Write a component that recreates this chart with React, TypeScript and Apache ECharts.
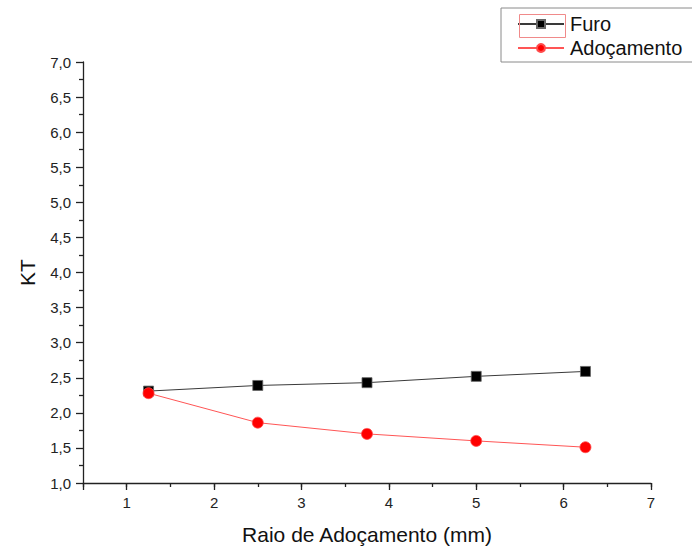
import React, { useEffect, useRef } from "react";
import * as echarts from "echarts";

// Fillet radius (mm) and stress concentration factor KT
const raio = [1.25, 2.5, 3.75, 5, 6.25];
const furo = [2.31, 2.39, 2.43, 2.52, 2.59];
const adocamento = [2.28, 1.86, 1.7, 1.6, 1.51];

const seriesNames = ["Furo", "Adoçamento"];
const xTitle = "Raio de Adoçamento (mm)";
const yTitle = "KT";

const FONT = "Liberation Sans, Arial, sans-serif";

export default function App() {
  const ref = useRef<HTMLDivElement>(null);

  useEffect(() => {
    if (!ref.current) return;
    const chart = echarts.init(ref.current, undefined, { renderer: "svg" });
    const pairs = (ys: number[]) => raio.map((x, i) => [x, ys[i]]);

    chart.setOption({
      animation: false,
      backgroundColor: "#ffffff",
      textStyle: { fontFamily: FONT },
      grid: {
        left: 83,
        right: 41,
        top: 62,
        bottom: 66,
        containLabel: false,
        outerBoundsMode: "none",
      },
      legend: {
        orient: "vertical",
        left: 501,
        top: 8,
        width: 189,
        padding: [6, 20, 4, 16],
        itemWidth: 46,
        itemHeight: 10,
        itemGap: 4,
        backgroundColor: "#ffffff",
        borderColor: "#8a8a8a",
        borderWidth: 1,
        textStyle: { fontSize: 20, color: "#111", fontFamily: FONT, padding: [0, 0, 0, 1] },
        data: seriesNames,
      },
      graphic: [
        {
          type: "rect",
          left: 517,
          top: 12,
          shape: { width: 46, height: 23 },
          style: { fill: "none", stroke: "#f08a8a", lineWidth: 1 },
          z: 100,
        },
      ],
      xAxis: [
        {
          type: "value",
          min: 0.5,
          max: 7,
          splitNumber: 7,
          name: xTitle,
          nameLocation: "middle",
          nameGap: 41,
          nameTextStyle: { fontSize: 21, color: "#111", fontFamily: FONT },
          axisLine: { onZero: false, lineStyle: { color: "#222", width: 1.3 } },
          axisTick: { show: true, inside: false, length: 7, lineStyle: { color: "#222", width: 1.3 } },
          axisLabel: {
            margin: 12,
            fontSize: 15,
            color: "#222",
            fontFamily: FONT,
            formatter: (v: number) => (Math.abs(v - Math.round(v)) < 1e-9 ? String(Math.round(v)) : ""),
          },
          splitLine: { show: false },
        },
        {
          // half-unit minor ticks
          type: "value",
          min: 0.5,
          max: 7,
          interval: 0.5,
          position: "bottom",
          axisLine: { show: false },
          axisTick: { show: true, inside: false, length: 4, lineStyle: { color: "#222", width: 1.3 } },
          axisLabel: { show: false },
          splitLine: { show: false },
        },
      ],
      yAxis: {
        type: "value",
        min: 1,
        max: 7,
        interval: 0.5,
        name: yTitle,
        nameLocation: "middle",
        nameGap: 45,
        nameRotate: 90,
        nameTextStyle: { fontSize: 21, color: "#111", fontFamily: FONT },
        axisLine: { show: true, onZero: false, lineStyle: { color: "#222", width: 1.3 } },
        axisTick: { show: true, inside: false, length: 7, lineStyle: { color: "#222", width: 1.3 } },
        minorTick: { show: true, splitNumber: 2, length: 4, lineStyle: { color: "#222", width: 1.3 } },
        axisLabel: {
          margin: 12,
          fontSize: 15,
          color: "#222",
          fontFamily: FONT,
          formatter: (v: number) => v.toFixed(1).replace(".", ","),
        },
        splitLine: { show: false },
      },
      series: [
        {
          name: seriesNames[0],
          type: "line",
          xAxisIndex: 0,
          data: pairs(furo),
          symbol: "rect",
          symbolSize: 10,
          itemStyle: { color: "#000000", borderColor: "#666", borderWidth: 0.8 },
          lineStyle: { color: "#3a3a3a", width: 1 },
        },
        {
          name: seriesNames[1],
          type: "line",
          xAxisIndex: 0,
          data: pairs(adocamento),
          symbol: "circle",
          symbolSize: 11,
          itemStyle: { color: "#ff0000", borderColor: "#ff4a4a", borderWidth: 0.8 },
          lineStyle: { color: "#ff5555", width: 1 },
        },
      ],
    });

    return () => chart.dispose();
  }, []);

  return <div ref={ref} style={{ width: 692, height: 549, position: "absolute", left: 0, top: 0 }} />;
}
